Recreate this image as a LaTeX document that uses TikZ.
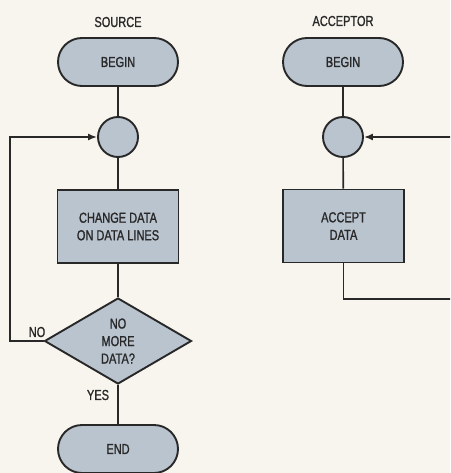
\documentclass[tikz,border=0pt]{standalone}
\usepackage{fontspec}
\setmainfont[FakeStretch=0.76,FakeBold=1.2]{Liberation Sans}
\usetikzlibrary{shapes.geometric,arrows.meta}
\definecolor{paper}{RGB}{247,245,238}
\definecolor{boxfill}{RGB}{186,196,207}
\definecolor{ink}{RGB}{40,40,40}
\begin{document}
\begin{tikzpicture}[x=1pt, y=-1pt, >={Latex[length=9pt,width=7pt]},
	every node/.style={font=\fontsize{14.5}{17.5}\selectfont, text=ink},
	term/.style={draw=ink, fill=boxfill, line width=1.9pt, rounded corners=24pt, minimum width=120pt, minimum height=48pt},
	joint/.style={draw=ink, fill=boxfill, line width=1.9pt, circle, minimum size=40pt, inner sep=0pt},
	proc/.style={draw=ink, fill=boxfill, line width=1.9pt, minimum width=121pt, minimum height=73pt, align=center},
	decide/.style={draw=ink, fill=boxfill, line width=1.9pt, diamond, minimum width=147pt, minimum height=86pt, align=center, inner sep=0pt},
	link/.style={draw=ink, line width=1.6pt}]
	\fill[paper] (0,0) rectangle (450,473); % Nen giay
	\clip (0,0) rectangle (450,473);
	% Cot trai: SOURCE
	\node (srctitle) at (118,22) {SOURCE};
	\node[term] (srcbegin) at (118,62) {BEGIN};
	\node[joint] (srcjoin) at (118,137) {};
	\node[proc] (srcchange) at (118,226.5) {CHANGE DATA\\ON DATA LINES};
	\node[decide] (srcmore) at (118,341) {NO\\MORE\\DATA?};
	\node[term] (srcend) at (118,449) {END};
	\node (nolabel) at (37,332) {NO};
	\node (yeslabel) at (98,395) {YES};
	\coordinate (loopcorner) at (10,341);
	\draw[link] (srcbegin) -- (srcjoin);
	\draw[link] (srcjoin) -- (srcchange);
	\draw[link] (srcchange) -- (srcmore);
	\draw[link] (srcmore) -- (srcend);
	\draw[link,->] (srcmore.west) -- (loopcorner) |- (srcjoin.west);
	% Cot phai: ACCEPTOR
	\node (acctitle) at (343,21) {ACCEPTOR};
	\node[term] (accbegin) at (343,62) {BEGIN};
	\node[joint] (accjoin) at (343,137) {};
	\node[proc] (accdata) at (343.5,226) {ACCEPT\\DATA};
	\coordinate (loopin) at (451,137);
	\coordinate (dataexit) at (451,299);
	\draw[link] (accbegin) -- (accjoin);
	\draw[link] (accjoin) -- (accdata);
	\draw[link,->] (loopin) -- (accjoin.east);
	\draw[link] (accdata.south) |- (dataexit);
\end{tikzpicture}
\end{document}
